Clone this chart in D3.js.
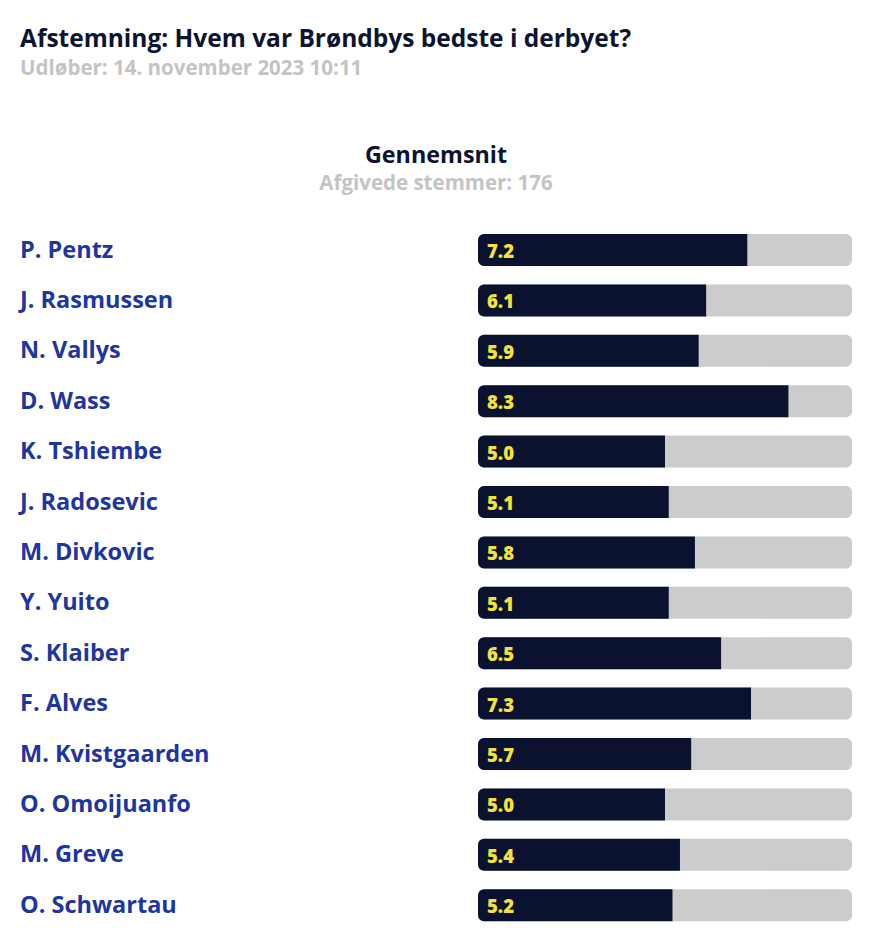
<!DOCTYPE html>
<html>
<head>
<meta charset="utf-8">
<script src="https://cdn.jsdelivr.net/npm/d3@7"></script>
<style>
  body { margin: 0; background: #fff; }
  svg { font-family: "Open Sans", Lato, sans-serif; font-weight: 700; }
</style>
</head>
<body>
<div id="chart"></div>
<script>
const players = ["P. Pentz", "J. Rasmussen", "N. Vallys", "D. Wass", "K. Tshiembe", "J. Radosevic",
  "M. Divkovic", "Y. Yuito", "S. Klaiber", "F. Alves", "M. Kvistgaarden", "O. Omoijuanfo",
  "M. Greve", "O. Schwartau"];
const ratings = [7.2, 6.1, 5.9, 8.3, 5.0, 5.1, 5.8, 5.1, 6.5, 7.3, 5.7, 5.0, 5.4, 5.2];
const maxRating = 10;
const votes = 176;

const width = 878, height = 950;

const svg = d3.select("#chart").append("svg")
  .attr("width", width)
  .attr("height", height);

// header
svg.append("text")
  .attr("x", 20).attr("y", 47)
  .attr("font-size", 24.5)
  .attr("fill", "#0c1430")
  .text("Afstemning: Hvem var Brøndbys bedste i derbyet?");

svg.append("text")
  .attr("x", 20).attr("y", 75)
  .attr("font-size", 20.5)
  .attr("fill", "#c4c4c4")
  .text("Udløber: 14. november 2023 10:11");

svg.append("text")
  .attr("x", 436).attr("y", 163)
  .attr("text-anchor", "middle")
  .attr("font-size", 23.3)
  .attr("fill", "#0c1430")
  .text("Gennemsnit");

svg.append("text")
  .attr("x", 436).attr("y", 190)
  .attr("text-anchor", "middle")
  .attr("font-size", 20.5)
  .attr("fill", "#c4c4c4")
  .text("Afgivede stemmer: " + votes);

const y = d3.scaleBand()
  .domain(players)
  .range([224.8, 930.4])
  .paddingInner(0.365)
  .paddingOuter(0.1825);

const x = d3.scaleLinear()
  .domain([0, maxRating])
  .range([478, 852]);

const rows = svg.append("g").selectAll("g.row")
  .data(players.map((p, i) => ({ name: p, value: ratings[i] })))
  .join("g")
  .attr("class", "row")
  .attr("transform", d => "translate(0," + y(d.name) + ")");

const h = y.bandwidth();
const r = 6;

rows.append("text")
  .attr("x", 20)
  .attr("y", h / 2 + 7.5)
  .attr("font-size", 23.5)
  .attr("fill", "#1f35a0")
  .text(d => d.name);

// background track
rows.append("rect")
  .attr("x", x(0))
  .attr("width", x(maxRating) - x(0))
  .attr("height", h)
  .attr("rx", r)
  .attr("fill", "#cccccc");

// value bar: rounded on the left, square on the right
rows.append("path")
  .attr("fill", "#0b1230")
  .attr("d", d => {
    const x0 = x(0), x1 = x(d.value);
    return "M" + (x0 + r) + ",0H" + x1 + "V" + h + "H" + (x0 + r) +
      "A" + r + "," + r + " 0 0 1 " + x0 + "," + (h - r) +
      "V" + r + "A" + r + "," + r + " 0 0 1 " + (x0 + r) + ",0Z";
  });

rows.append("text")
  .attr("x", x(0) + 9)
  .attr("y", h / 2 + 8)
  .attr("font-size", 18.5)
  .attr("font-weight", 800)
  .attr("fill", "#f3e23b")
  .text(d => d.value.toFixed(1));
</script>
</body>
</html>
